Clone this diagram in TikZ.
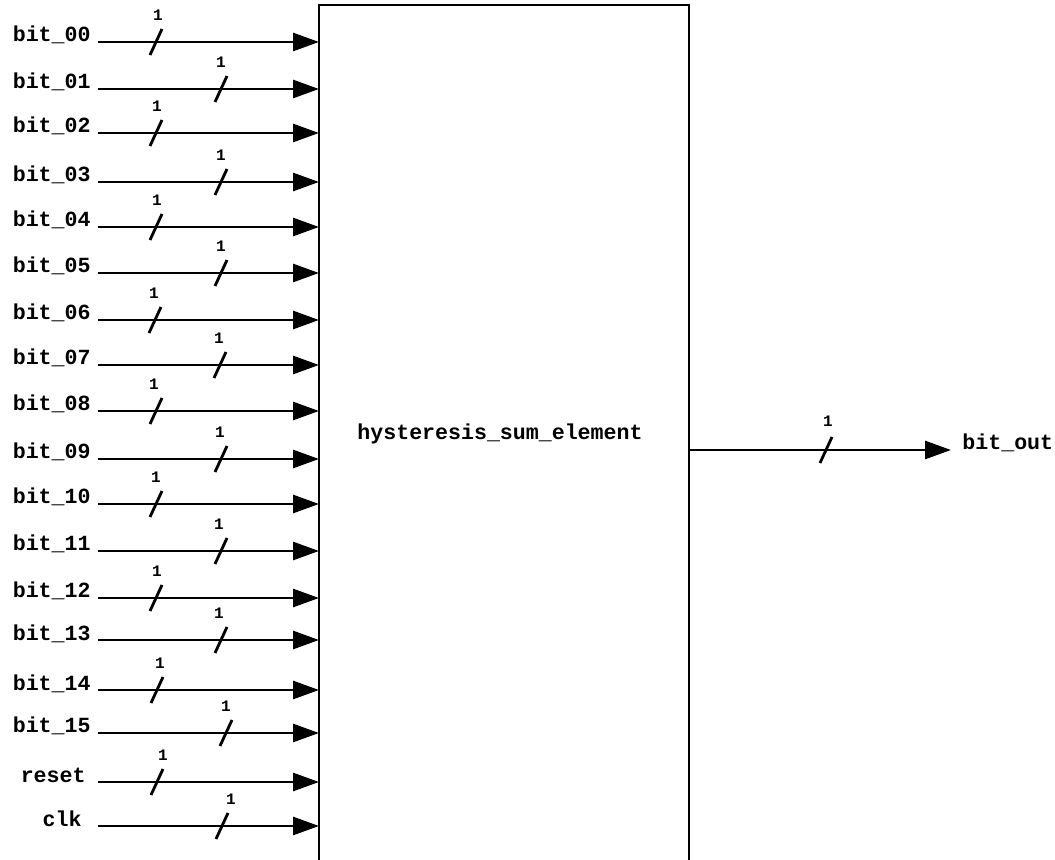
\documentclass[tikz,border=0pt]{standalone}
\usepackage{fontspec}
\setmonofont{Liberation Mono}
\usetikzlibrary{arrows.meta}
\tikzset{sig/.style={line width=1.4pt,-{Triangle[length=13pt,width=9pt]}},
  port/.style={font=\ttfamily\bfseries\fontsize{10.8}{12}\selectfont,inner xsep=3.5pt},
  wd/.style={font=\ttfamily\bfseries\fontsize{8}{9}\selectfont,inner sep=1pt}}

\begin{document}
\begin{tikzpicture}[x=0.5pt,y=-0.5pt]
\useasboundingbox (0,0) rectangle (1055,860);
% block, open at the bottom
\draw[line width=1.4pt] (319,860)--(319,5)--(689,5)--(689,860);
\node[port] (blk) at (500,434) {hysteresis\_sum\_element};
% inputs: name / label / y / slash x / width label x / label end
\foreach \n/\lab/\y/\s/\w/\e in {b00/bit\_00/42/156/158/98,b01/bit\_01/89/221/221/98,
  b02/bit\_02/133/156/157/98,b03/bit\_03/182/221/221/98,b04/bit\_04/227/156/157/98,
  b05/bit\_05/273/221/221/98,b06/bit\_06/320/155/154/98,b07/bit\_07/365/220/219/98,
  b08/bit\_08/411/156/154/98,b09/bit\_09/459/221/220/98,b10/bit\_10/504/156/156/98,
  b11/bit\_11/551/221/219/98,b12/bit\_12/598/156/157/98,b13/bit\_13/640/221/219/98,
  b14/bit\_14/690/157/160/98,b15/bit\_15/733/226/226/98,rst/reset/782/157/163/93,
  clk/clk/826/222/231/89}{
  \node[port,anchor=base east] (\n) at (\e,\y) {\lab};
  \coordinate (\n in) at (319,\y);
  \draw[sig] (\n.base east -| 98,0) -- (\n in);
  \draw[line width=1.4pt] (\s-6,\y+13) -- (\s+6,\y-13);
  \node[wd] (\n w) at (\w,\y-27) {1};
}
% output
\coordinate (out) at (689,450);
\coordinate (outend) at (951,450);
\draw[sig] (out) -- (outend);
\draw[line width=1.4pt] (820,463) -- (832,437);
\node[wd] (outw) at (828,421) {1};
\node[port,anchor=base west,inner xsep=5.5pt] (bo) at (outend) {bit\_out};
\end{tikzpicture}
\end{document}
